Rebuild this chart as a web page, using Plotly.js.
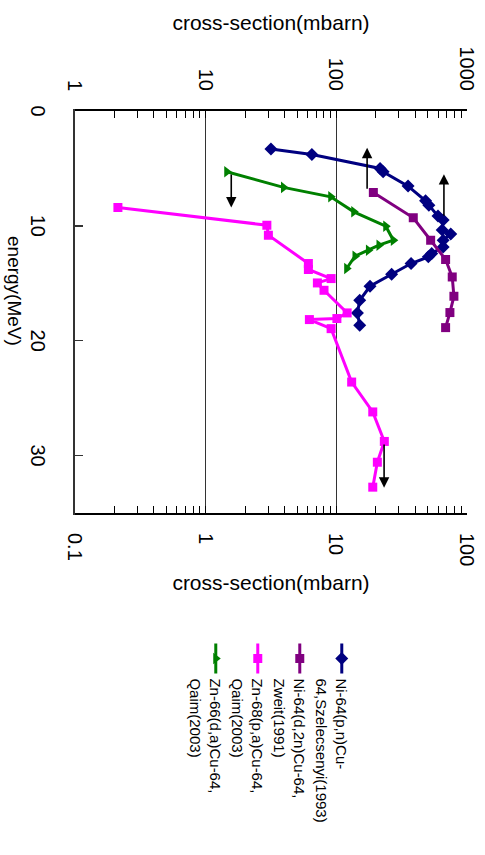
<!DOCTYPE html>
<html>
<head>
<meta charset="utf-8">
<script src="https://cdn.plot.ly/plotly-3.0.1.min.js"></script>
<style>
html, body { margin:0; padding:0; width:485px; height:855px; overflow:hidden; background:#fff; }
#wrap { position:absolute; left:0; top:0; width:855px; height:485px; transform-origin:0 0; transform:translate(485px,0) rotate(90deg); }
#chart { width:855px; height:485px; }
</style>
</head>
<body>
<div id="wrap"><div id="chart"></div></div>
<script>
// Series names
const seriesNames = [
  'Ni-64(p,n)Cu-<br>64,Szelecsenyi(1993)',
  'Ni-64(d,2n)Cu-64,<br>Zweit(1991)',
  'Zn-68(p,a)Cu-64,<br>Qaim(2003)',
  'Zn-66(d,a)Cu-64,<br>Qaim(2003)'
];

// Ni-64(p,n)Cu-64 (left axis, mbarn)
const energyNiPn = [3.31, 3.78, 5.00, 5.29, 6.54, 7.82, 8.20, 9.15, 9.50, 10.37, 10.70, 11.25, 11.83, 12.41, 12.70, 13.28, 14.21, 15.26, 16.48, 17.59, 18.66];
const sigmaNiPn  = [31.6, 65.0, 216, 228, 354, 482, 511, 600, 657, 646, 751, 657, 657, 537, 506, 373, 265, 181, 151, 145, 151];

// Ni-64(d,2n)Cu-64 (left axis, mbarn)
const energyNiD2n = [7.09, 9.30, 11.25, 12.93, 14.45, 16.13, 17.55, 18.86];
const sigmaNiD2n  = [192, 388, 527, 686, 771, 794, 740, 686];

// Zn-68(p,a)Cu-64 (right axis, mbarn)
const energyZn68 = [8.40, 9.94, 10.81, 13.28, 13.80, 14.59, 14.97, 15.61, 17.58, 18.07, 18.16, 18.95, 23.6, 26.2, 28.77, 30.58, 32.75];
const sigmaZn68  = [0.213, 2.94, 3.02, 6.11, 6.11, 9.12, 7.16, 8.05, 12.1, 10.1, 6.22, 9.12, 13.1, 19.0, 23.3, 20.6, 19.0];

// Zn-66(d,a)Cu-64 (right axis, mbarn)
const energyZn66 = [5.29, 6.65, 7.47, 8.78, 10.03, 11.25, 11.68, 12.12, 12.64, 13.71];
const sigmaZn66  = [1.45, 3.94, 9.06, 13.6, 23.9, 27.3, 21.2, 17.6, 13.9, 12.0];

// Arrows: which axis, cross-section level, energy start -> energy end
const arrowAxis   = ['y2', 'y', 'y', 'y2'];
const arrowSigma  = [1.57, 172, 666, 23.2];
const arrowFromE  = [5.4, 6.9, 9.24, 28.9];
const arrowToE    = [8.4, 3.2, 5.5, 32.8];

// Tick labels
const energyTicks = [0, 10, 20, 30];
const leftTickVals = [1, 10, 100, 1000];
const leftTickText = ['1', '10', '100', '1000'];
const rightTickVals = [0.1, 1, 10, 100];
const rightTickText = ['0.1', '1', '10', '100'];
const energyTitle = 'energy(MeV)';
const sigmaTitle = 'cross-section(mbarn)';

const FONT = 'Liberation Sans, Arial, sans-serif';

const traces = [
  {x: energyNiPn, y: sigmaNiPn, name: seriesNames[0], yaxis: 'y', mode: 'lines+markers',
   line: {color: '#000080', width: 3}, marker: {symbol: 'diamond', size: 10, color: '#000080'}},
  {x: energyNiD2n, y: sigmaNiD2n, name: seriesNames[1], yaxis: 'y', mode: 'lines+markers',
   line: {color: '#800080', width: 3}, marker: {symbol: 'square', size: 9, color: '#800080'}},
  {x: energyZn68, y: sigmaZn68, name: seriesNames[2], yaxis: 'y2', mode: 'lines+markers',
   line: {color: '#FF00FF', width: 3}, marker: {symbol: 'square', size: 9, color: '#FF00FF'}},
  {x: energyZn66, y: sigmaZn66, name: seriesNames[3], yaxis: 'y2', mode: 'lines+markers',
   line: {color: '#008000', width: 3}, marker: {symbol: 'triangle-up', size: 10, color: '#008000'}}
];

const annotations = arrowSigma.map((s, i) => ({
  xref: 'x', yref: arrowAxis[i], axref: 'x', ayref: arrowAxis[i],
  x: arrowToE[i], y: Math.log10(s), ax: arrowFromE[i], ay: Math.log10(s),
  text: '', showarrow: true, arrowhead: 2, arrowsize: 1.3, arrowwidth: 1.6, arrowcolor: '#000', standoff: 0, startstandoff: 0
}));
annotations.push({xref: 'paper', yref: 'paper', x: 0.448, y: -0.155, xanchor: 'center', yanchor: 'middle',
  text: energyTitle, showarrow: false, borderpad: 0, font: {family: FONT, size: 19, color: '#000'}});

const layout = {
  width: 855, height: 485,
  margin: {l: 111, r: 342, t: 18, b: 75, pad: 0},
  paper_bgcolor: '#fff', plot_bgcolor: '#fff',
  font: {family: FONT, color: '#000', size: 20},
  showlegend: true,
  legend: {x: 1.312, xanchor: 'left', y: 0.722, yanchor: 'top', valign: 'top',
           font: {family: FONT, size: 15, color: '#000'},
           bgcolor: 'rgba(0,0,0,0)', borderwidth: 0, tracegroupgap: 0},
  xaxis: {range: [0, 35], tickmode: 'array', tickvals: energyTicks, ticktext: energyTicks.map(String),
          ticks: 'inside', ticklen: 8, tickcolor: '#333', tickwidth: 1.5,
          showline: true, linecolor: '#333', linewidth: 2, showgrid: false, zeroline: false,
          ticklabelstandoff: 18, tickfont: {size: 20}},
  yaxis: {type: 'log', range: [0, 3], tickmode: 'array', tickvals: leftTickVals, ticktext: leftTickText,
          ticks: 'inside', ticklen: 7, tickcolor: '#000', showline: true, linecolor: '#000', linewidth: 2,
          showgrid: true, gridcolor: '#333', gridwidth: 1, zeroline: false,
          minor: {dtick: 'D1', ticks: 'inside', ticklen: 7, tickcolor: '#000', showgrid: false},
          ticklabelstandoff: 14, tickfont: {size: 20},
          title: {text: sigmaTitle, font: {size: 21}, standoff: 10}},
  yaxis2: {type: 'log', range: [-1, 2], overlaying: 'y', side: 'right', tickmode: 'array',
          tickvals: rightTickVals, ticktext: rightTickText,
          ticks: 'inside', ticklen: 7, tickcolor: '#000', showline: true, linecolor: '#000', linewidth: 2,
          showgrid: false, zeroline: false,
          minor: {dtick: 'D1', ticks: 'inside', ticklen: 7, tickcolor: '#000', showgrid: false},
          ticklabelstandoff: 14, tickfont: {size: 20},
          title: {text: sigmaTitle, font: {size: 21}, standoff: 10}},
  annotations: annotations
};

Plotly.newPlot('chart', traces, layout, {displayModeBar: false, staticPlot: true});
</script>
</body>
</html>
